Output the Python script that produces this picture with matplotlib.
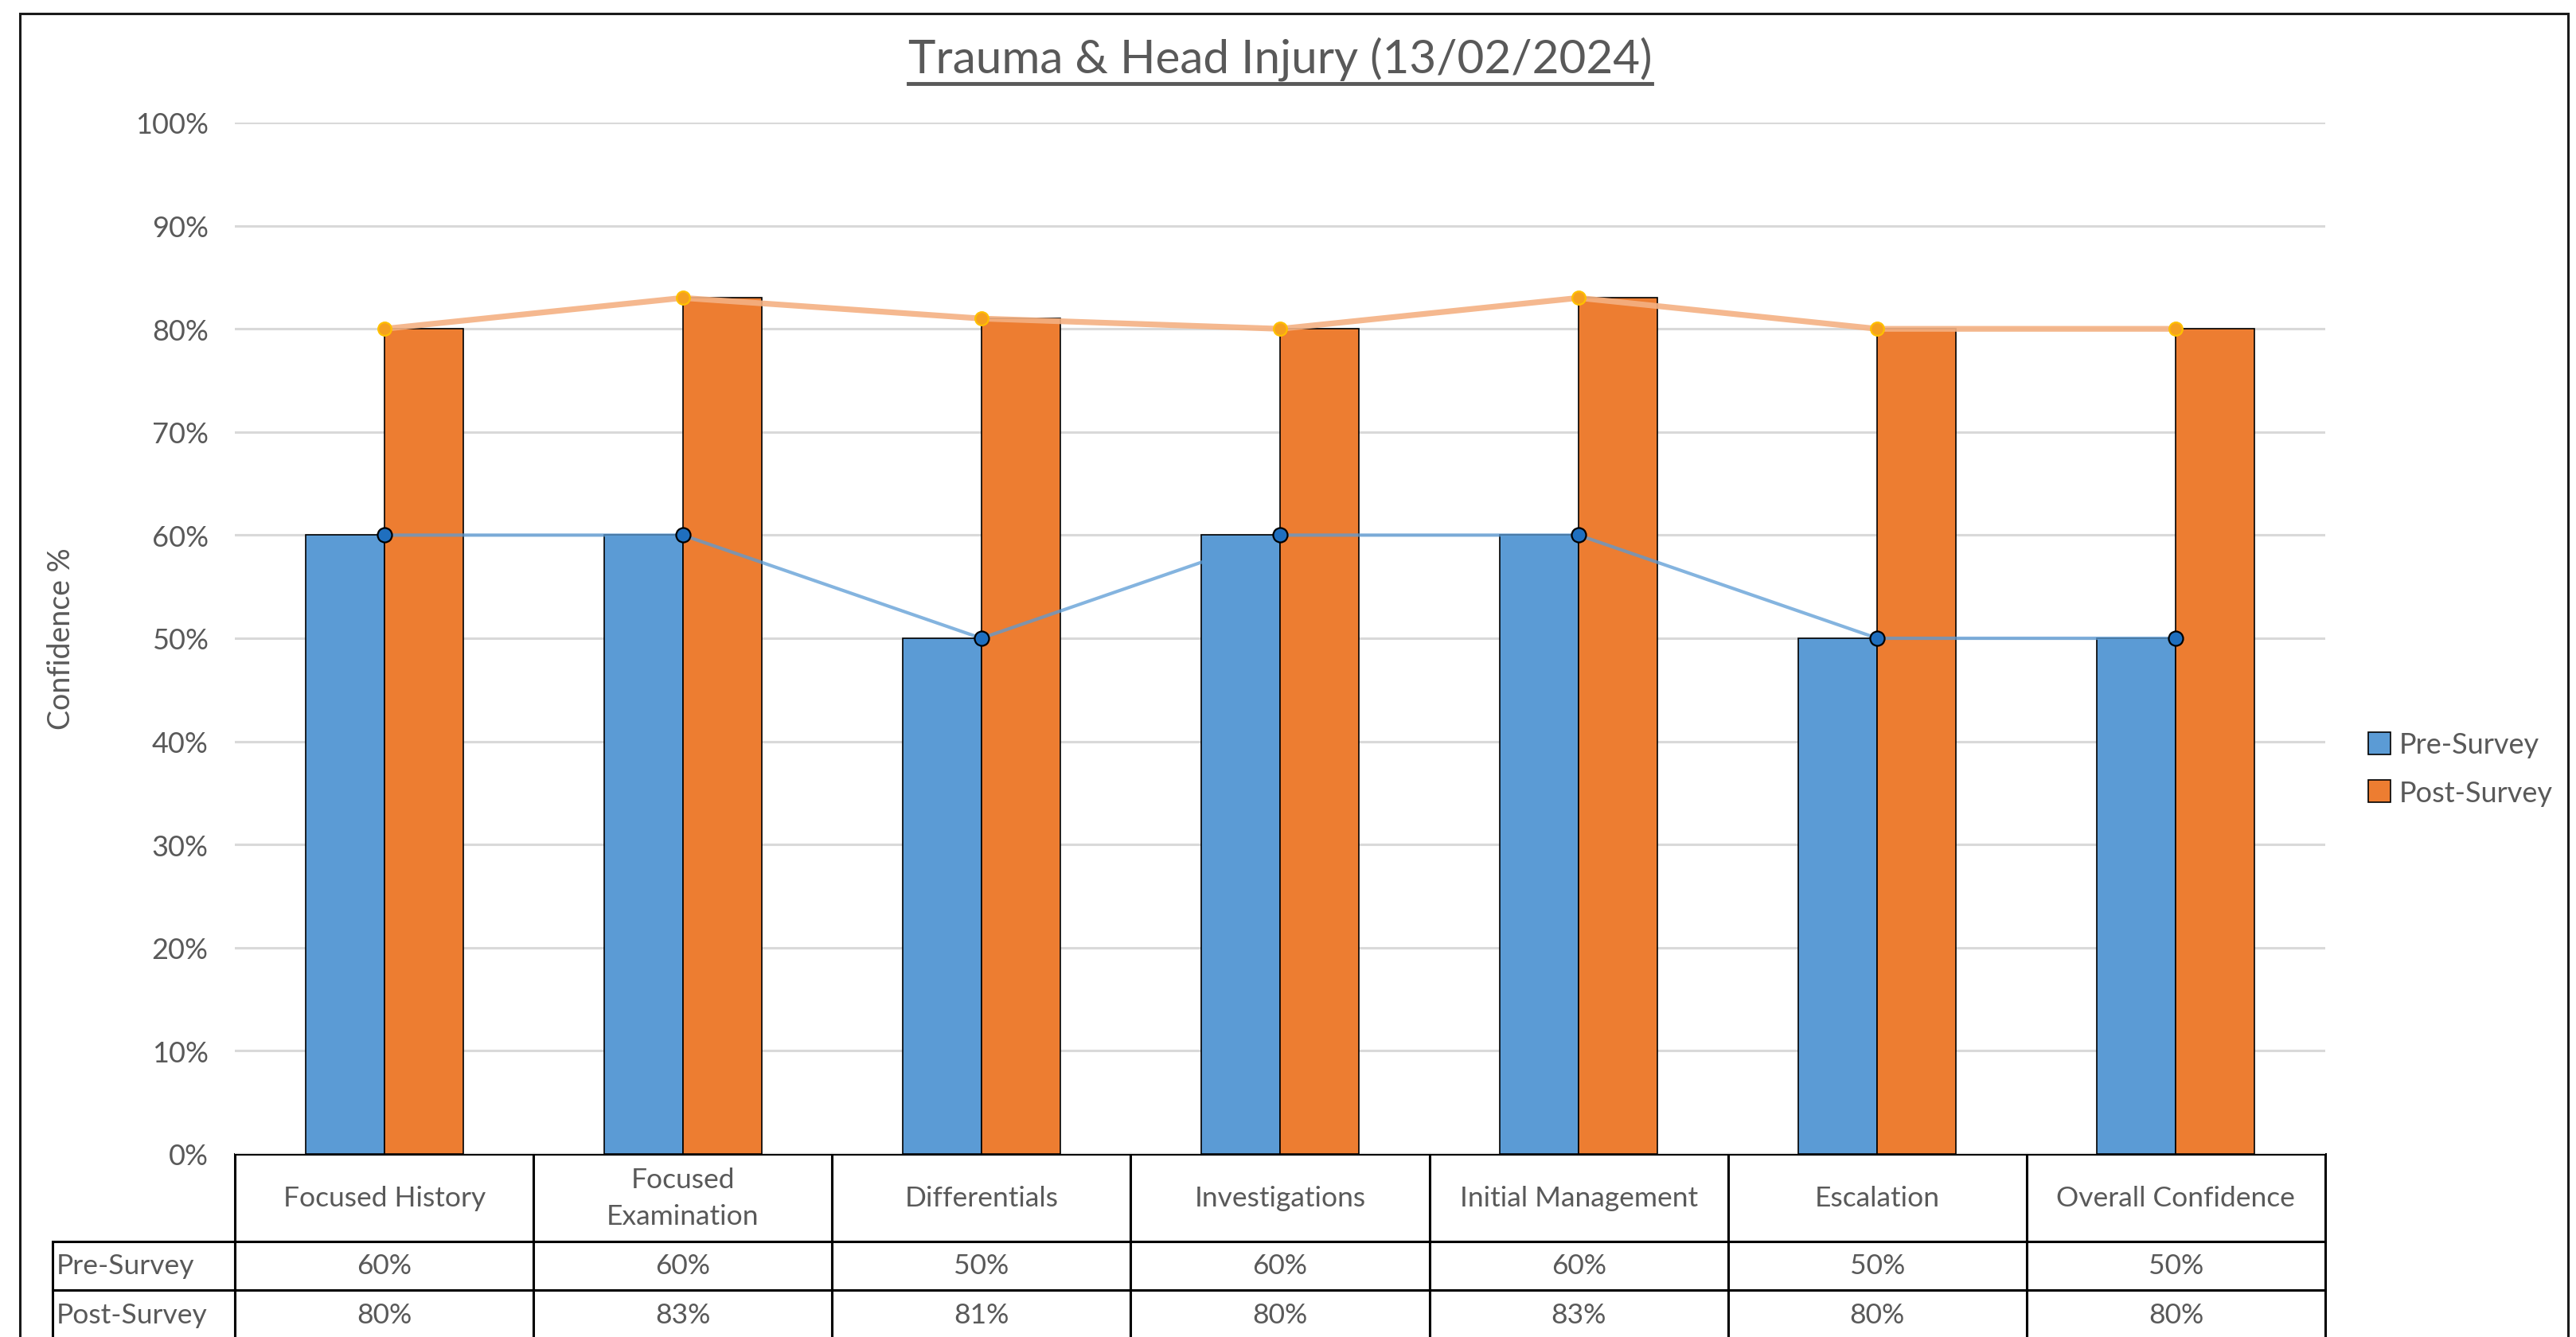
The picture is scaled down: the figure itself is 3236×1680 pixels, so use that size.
import matplotlib
matplotlib.use("Agg")
import matplotlib.pyplot as plt
from matplotlib.patches import Rectangle, Patch
from matplotlib.table import Table
import numpy as np

plt.rcParams['font.family'] = ['Lato', 'DejaVu Sans']

categories = ["Focused History", "Focused\nExamination", "Differentials", "Investigations",
              "Initial Management", "Escalation", "Overall Confidence"]
pre_survey = [60, 60, 50, 60, 60, 50, 50]
post_survey = [80, 83, 81, 80, 83, 80, 80]
series_names = ["Pre-Survey", "Post-Survey"]
y_ticks = [0, 10, 20, 30, 40, 50, 60, 70, 80, 90, 100]

W, H = 3236, 1681
fig = plt.figure(figsize=(W / 100, H / 100), dpi=100)
fig.patch.set_facecolor("white")

# outer chart border
fig.patches.append(Rectangle((25 / W, -0.01), (3226 - 25) / W, (H - 18) / H + 0.01,
                             transform=fig.transFigure, fill=False, edgecolor="#1a1a1a",
                             linewidth=2.2, zorder=0))

left, right, top, bottom = 295, 2921, 155, 1451
ax = fig.add_axes([left / W, (H - bottom) / H, (right - left) / W, (bottom - top) / H])

grey = "#595959"
blue = "#5B9BD5"
orange = "#ED7D31"

x = np.arange(len(categories))
bw = 0.264
ax.bar(x - bw / 2, pre_survey, width=bw, color=blue, edgecolor="black", linewidth=1.2, zorder=2)
ax.bar(x + bw / 2, post_survey, width=bw, color=orange, edgecolor="black", linewidth=1.2, zorder=2)

ax.plot(x, pre_survey, color=blue, alpha=0.75, linewidth=3.0, zorder=3)
ax.plot(x, pre_survey, linestyle="none", marker="o", markersize=13, markerfacecolor="#1F6FBF",
        markeredgecolor="black", markeredgewidth=1.6, zorder=4)
ax.plot(x, post_survey, color="#F4B183", alpha=0.9, linewidth=5.2, zorder=3)
ax.plot(x, post_survey, linestyle="none", marker="o", markersize=12, markerfacecolor="#F5A01F",
        markeredgecolor="#FFC000", markeredgewidth=1.6, zorder=4)

ax.set_xlim(-0.5, len(categories) - 0.5)
ax.set_ylim(0, 100)
ax.set_yticks(y_ticks)
ax.set_yticklabels([f"{v}%" for v in y_ticks])
ax.tick_params(axis="y", length=0, labelsize=26, labelcolor=grey, pad=24)
ax.tick_params(axis="x", length=0, labelbottom=False)
ax.grid(axis="y", color="#D9D9D9", linewidth=2.2, zorder=0)
ax.set_axisbelow(True)
for s in ax.spines.values():
    s.set_visible(False)

ax.set_ylabel("Confidence %", fontsize=27, color=grey, labelpad=54)

ax.set_title("Trauma & Head Injury (13/02/2024)", fontsize=42, color=grey, pad=46)
ttl = ax.title
fig.canvas.draw()
bb = ttl.get_window_extent()
fig.add_artist(plt.Line2D([bb.x0 / W, bb.x1 / W], [(bb.y0 - 4) / H, (bb.y0 - 4) / H],
                          transform=fig.transFigure, color=grey, linewidth=3.5))

# data table built cell by cell; first column holds the series names
tbl_left_px, tbl_bottom_px = 66, 1684
tbl = Table(ax, bbox=[(tbl_left_px - left) / (right - left),
                      (bottom - tbl_bottom_px) / (bottom - top),
                      (right - tbl_left_px) / (right - left),
                      (tbl_bottom_px - bottom) / (bottom - top)])
label_w, col_w, hdr_h, row_h = 229, 375, 110, 62
corner = tbl.add_cell(0, 0, label_w, hdr_h, text="")
corner.set_linewidth(0)
corner.set_edgecolor("white")
corner.visible_edges = ""
for j, cat in enumerate(categories):
    tbl.add_cell(0, j + 1, col_w, hdr_h, text=cat, loc="center")
for i, (name, vals) in enumerate(zip(series_names, [pre_survey, post_survey])):
    c = tbl.add_cell(i + 1, 0, label_w, row_h, text=name, loc="left")
    c.PAD = 0.02
    for j, v in enumerate(vals):
        tbl.add_cell(i + 1, j + 1, col_w, row_h, text=f"{v}%", loc="center")
tbl.auto_set_font_size(False)
for (r, c), cell in tbl.get_celld().items():
    if not (r == 0 and c == 0):
        cell.set_edgecolor("black")
        cell.set_linewidth(2.2)
    cell.get_text().set_color(grey)
    cell.get_text().set_fontsize(25.5)
    cell.get_text().set_linespacing(1.55)
ax.add_table(tbl)

# legend
handles = [Patch(facecolor=blue, edgecolor="black", linewidth=1.2),
           Patch(facecolor=orange, edgecolor="black", linewidth=1.2)]
fig.legend(handles, series_names, loc="center left", bbox_to_anchor=(2942 / W, (H - 967) / H),
           frameon=False, fontsize=26, labelcolor=grey, handlelength=0.8, handleheight=0.8,
           handletextpad=0.3, labelspacing=0.75)

fig.savefig("out.png", dpi=100)
